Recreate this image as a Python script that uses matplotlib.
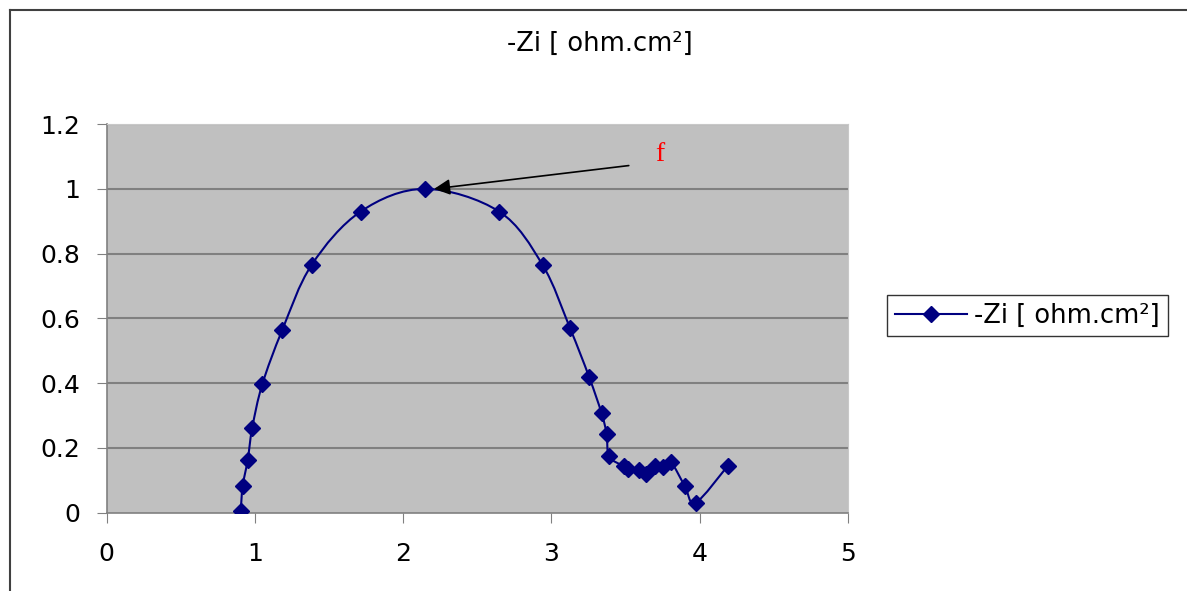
import numpy as np
import matplotlib
matplotlib.use("Agg")
import matplotlib.pyplot as plt
from matplotlib.path import Path
from matplotlib.patches import PathPatch
from matplotlib.lines import Line2D

# data
zr = [0.904, 0.917, 0.951, 0.982, 1.049, 1.184, 1.382, 1.713, 2.146, 2.647,
      2.940, 3.124, 3.254, 3.338, 3.372, 3.389, 3.488, 3.517, 3.591, 3.635,
      3.697, 3.753, 3.805, 3.900, 3.972, 4.188]
zi = [0.005, 0.082, 0.163, 0.263, 0.396, 0.564, 0.765, 0.930, 1.000, 0.930,
      0.765, 0.571, 0.419, 0.307, 0.243, 0.174, 0.143, 0.134, 0.131, 0.120,
      0.145, 0.141, 0.156, 0.082, 0.031, 0.144]
label = "-Zi [ ohm.cm²]"
xticks = [0, 1, 2, 3, 4, 5]
yticks = [0, 0.2, 0.4, 0.6, 0.8, 1.0, 1.2]

NAVY = "#000080"
plt.rcParams["font.family"] = ["DejaVu Sans"]


def smooth_path(x, y, k=1 / 6):
    """Excel-like smoothed line: cubic bezier segments through the points."""
    pts = np.column_stack([x, y])
    verts = [pts[0]]
    codes = [Path.MOVETO]
    n = len(pts)
    for i in range(n - 1):
        p0 = pts[i - 1] if i > 0 else pts[i]
        p1, p2 = pts[i], pts[i + 1]
        p3 = pts[i + 2] if i + 2 < n else pts[i + 1]
        verts += [p1 + (p2 - p0) * k, p2 - (p3 - p1) * k, p2]
        codes += [Path.CURVE4] * 3
    return Path(verts, codes)


fig = plt.figure(figsize=(11.87, 5.91), dpi=100)
ax = fig.add_axes([0.0899, 0.1325, 0.6245, 0.6575])
ax.set_facecolor("#C0C0C0")

ax.add_patch(PathPatch(smooth_path(zr, zi), fill=False, edgecolor=NAVY,
                       linewidth=1.5, zorder=3))
ax.plot(zr, zi, linestyle="none", marker="D", markersize=8, color=NAVY, zorder=4)

ax.set_xlim(0, 5)
ax.set_ylim(0, 1.2)
ax.set_xticks(xticks)
ax.set_yticks(yticks)
ax.set_yticklabels(["0", "0.2", "0.4", "0.6", "0.8", "1", "1.2"])
ax.tick_params(labelsize=18, direction="out", length=7, color="#808080")
ax.tick_params(axis="x", pad=14)
ax.tick_params(axis="y", pad=12)
for y in yticks[1:]:
    ax.axhline(y, color="#808080", linewidth=1.5, zorder=1)
for s in ["left", "bottom"]:
    ax.spines[s].set_color("#808080")
    ax.spines[s].set_linewidth(1.2)
for s in ["top", "right"]:
    ax.spines[s].set_color("#C8C8C8")

fig.text(600 / 1187, 1 - 44 / 591, label, fontsize=18.5, ha="center", va="center")

# annotation arrow
ax.annotate("", xy=(2.19, 0.999), xytext=(3.54, 1.073),
            arrowprops=dict(arrowstyle="-|>", color="black", lw=1.2,
                            mutation_scale=24))
ax.text(3.73, 1.105, "f", color="red", fontsize=20, family="Liberation Serif",
        ha="center", va="center")

# legend
h = Line2D([], [], color=NAVY, marker="D", markersize=8, linewidth=1.5)
fig.legend([h], [label], loc="upper left", bbox_to_anchor=(887 / 1187, 1 - 295 / 591),
           fontsize=18.5, frameon=True, fancybox=False, edgecolor="black",
           handlelength=2.8, handletextpad=0.3, borderpad=0.3, borderaxespad=0)
fig.legends[0].get_frame().set_linewidth(1.0)

# chart border (top and left edge visible)
fig.add_artist(Line2D([10 / 1187, 10 / 1187], [0, 1 - 10 / 591],
                      color="#404040", linewidth=1.5))
fig.add_artist(Line2D([10 / 1187, 1], [1 - 10 / 591, 1 - 10 / 591],
                      color="#404040", linewidth=1.5))

fig.savefig("out.png", dpi=100)
